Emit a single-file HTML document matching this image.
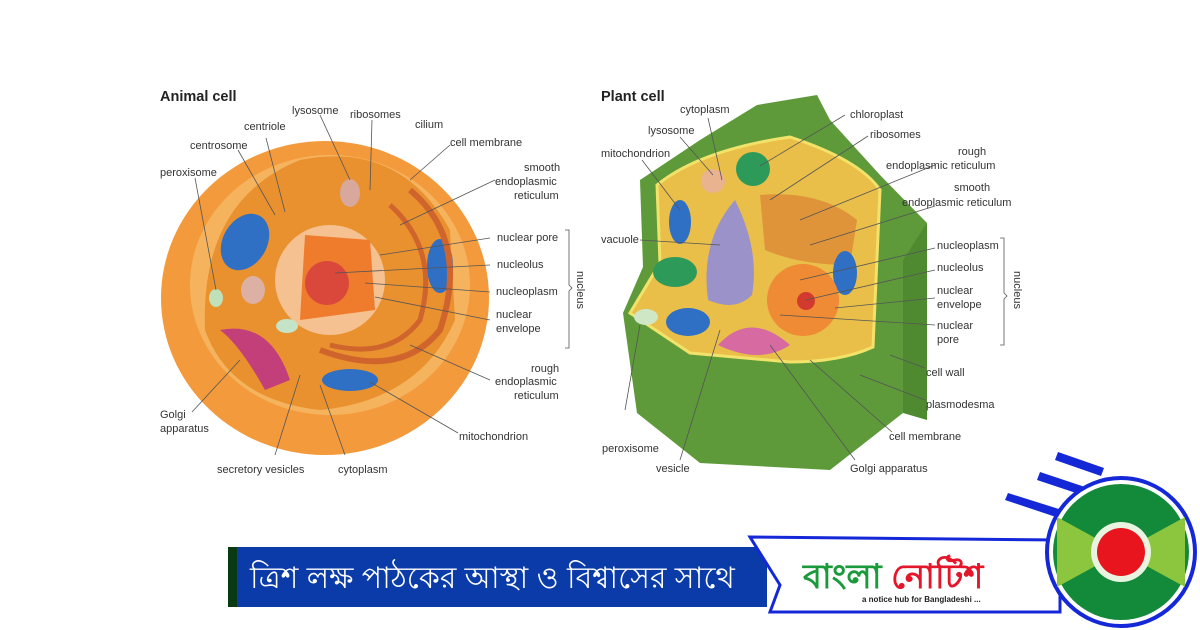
<!DOCTYPE html>
<html><head><meta charset="utf-8"><style>
body{margin:0;width:1200px;height:630px;background:#fff;overflow:hidden;font-family:"Liberation Sans",sans-serif}
svg{position:absolute;left:0;top:0}
text{font-family:"Liberation Sans",sans-serif;font-size:11px;fill:#333}
</style></head><body>
<svg width="1200" height="630" viewBox="0 0 1200 630">
<!-- Animal cell -->
<text x="160" y="101" style="font-size:14.5px;font-weight:bold;fill:#222">Animal cell</text>
<ellipse cx="325" cy="298" rx="164" ry="157" fill="#f39a3c"/>
<ellipse cx="330" cy="285" rx="140" ry="130" fill="#f6b35e"/>
<path d="M205 330 Q200 200 300 160 Q400 140 450 230 L455 320 Q420 400 320 410 Q230 400 205 330Z" fill="#e9912f"/>
<circle cx="330" cy="280" r="55" fill="#f5c190"/>
<path d="M305 235 L370 240 L375 310 L300 320 Z" fill="#ef7b2c"/>
<circle cx="327" cy="283" r="22" fill="#d9483a"/>
<ellipse cx="245" cy="242" rx="22" ry="30" fill="#2f6fc4" transform="rotate(30 245 242)"/>
<ellipse cx="440" cy="266" rx="13" ry="27" fill="#2f6fc4"/>
<ellipse cx="350" cy="380" rx="28" ry="11" fill="#2f6fc4"/>
<ellipse cx="350" cy="193" rx="10" ry="14" fill="#d7a89b"/>
<ellipse cx="253" cy="290" rx="12" ry="14" fill="#dcb0a2"/>
<ellipse cx="216" cy="298" rx="7" ry="9" fill="#bfe0b8"/>
<ellipse cx="287" cy="326" rx="11" ry="7" fill="#c4e3c7"/>
<path d="M220 330 Q270 320 290 380 L265 390 Q240 345 220 330Z" fill="#c33f7a"/>
<path d="M410 190 Q470 240 440 330 Q400 380 320 350" fill="none" stroke="#d0642d" stroke-width="6"/>
<path d="M390 205 Q440 250 420 320 Q390 360 330 345" fill="none" stroke="#d0642d" stroke-width="5"/>
<g stroke="#555" stroke-width="0.8" fill="none">
<line x1="275" y1="215" x2="238" y2="150"/><line x1="285" y1="212" x2="266" y2="138"/>
<line x1="350" y1="180" x2="320" y2="115"/><line x1="370" y1="190" x2="372" y2="120"/>
<line x1="410" y1="180" x2="450" y2="145"/><line x1="400" y1="225" x2="495" y2="180"/>
<line x1="216" y1="290" x2="195" y2="178"/><line x1="380" y1="255" x2="490" y2="238"/>
<line x1="335" y1="273" x2="490" y2="265"/><line x1="365" y1="283" x2="490" y2="292"/>
<line x1="375" y1="297" x2="490" y2="320"/><line x1="410" y1="345" x2="490" y2="380"/>
<line x1="370" y1="382" x2="458" y2="433"/><line x1="240" y1="360" x2="192" y2="412"/>
<line x1="300" y1="375" x2="275" y2="455"/><line x1="320" y1="385" x2="345" y2="455"/>
<path d="M565 230 h4 v55 l3 3 l-3 3 v57 h-4"/>
</g>
<text x="292" y="114">lysosome</text><text x="350" y="118">ribosomes</text><text x="415" y="128">cilium</text>
<text x="244" y="130">centriole</text><text x="190" y="149">centrosome</text><text x="450" y="146">cell membrane</text>
<text x="160" y="176">peroxisome</text>
<text x="524" y="171">smooth</text><text x="495" y="185">endoplasmic</text><text x="514" y="199">reticulum</text>
<text x="497" y="241">nuclear pore</text><text x="497" y="268">nucleolus</text><text x="496" y="295">nucleoplasm</text>
<text x="496" y="318">nuclear</text><text x="496" y="332">envelope</text>
<text x="531" y="372">rough</text><text x="495" y="385">endoplasmic</text><text x="514" y="399">reticulum</text>
<text x="459" y="440">mitochondrion</text>
<text x="160" y="418">Golgi</text><text x="160" y="432">apparatus</text>
<text x="217" y="473">secretory vesicles</text><text x="338" y="473">cytoplasm</text>
<text x="577" y="290" transform="rotate(90 577 290)" text-anchor="middle">nucleus</text>
<!-- Plant cell -->
<text x="601" y="101" style="font-size:14.5px;font-weight:bold;fill:#222">Plant cell</text>
<path d="M640 180 L700 140 L757 105 L817 95 L830 120 L880 175 L927 223 L920 250 L903 260 L903 413 L830 470 L700 463 L637 413 L623 313 L643 267 Z" fill="#5e9a3a"/>
<path d="M903 260 L927 223 L927 420 L903 413Z" fill="#4f8a30"/>
<path d="M657 185 Q700 150 790 137 Q860 160 880 190 L873 347 Q840 362 790 362 L690 353 L630 313 L660 263 Z" fill="#e9bf4a" stroke="#f2e26a" stroke-width="3"/>
<path d="M760 195 Q820 190 857 220 L850 265 Q800 265 765 250 Z" fill="#dd8a35" opacity="0.8"/>
<path d="M735 200 Q760 250 752 295 Q735 312 708 300 Q700 240 735 200Z" fill="#9a92c8"/>
<circle cx="713" cy="181" r="12" fill="#e8b38e"/>
<ellipse cx="753" cy="169" rx="17" ry="17" fill="#2e9a5a"/>
<ellipse cx="680" cy="222" rx="11" ry="22" fill="#2f6fc4"/>
<ellipse cx="675" cy="272" rx="22" ry="15" fill="#2e9a5a"/>
<ellipse cx="688" cy="322" rx="22" ry="14" fill="#2f6fc4"/>
<ellipse cx="646" cy="317" rx="12" ry="8" fill="#cfe7c5"/>
<ellipse cx="845" cy="273" rx="12" ry="22" fill="#2f6fc4"/>
<circle cx="803" cy="300" r="36" fill="#ef8a35"/>
<circle cx="806" cy="301" r="9" fill="#d33a2e"/>
<path d="M718 345 Q750 310 790 345 Q760 365 718 345Z" fill="#d66aa1"/>
<g stroke="#555" stroke-width="0.8" fill="none">
<line x1="722" y1="180" x2="708" y2="118"/><line x1="713" y1="175" x2="680" y2="137"/>
<line x1="760" y1="166" x2="845" y2="115"/><line x1="770" y1="200" x2="868" y2="136"/>
<line x1="680" y1="210" x2="642" y2="160"/><line x1="800" y1="220" x2="935" y2="165"/>
<line x1="810" y1="245" x2="935" y2="206"/><line x1="720" y1="245" x2="640" y2="240"/>
<line x1="800" y1="280" x2="935" y2="248"/><line x1="806" y1="300" x2="935" y2="270"/>
<line x1="835" y1="308" x2="935" y2="298"/><line x1="780" y1="315" x2="935" y2="325"/>
<line x1="890" y1="355" x2="925" y2="368"/><line x1="860" y1="375" x2="925" y2="400"/>
<line x1="810" y1="360" x2="892" y2="432"/><line x1="770" y1="345" x2="855" y2="460"/>
<line x1="640" y1="325" x2="625" y2="410"/><line x1="720" y1="330" x2="680" y2="460"/>
<path d="M1000 238 h4 v55 l3 3 l-3 3 v46 h-4"/>
</g>
<text x="680" y="113">cytoplasm</text><text x="850" y="118">chloroplast</text><text x="870" y="138">ribosomes</text>
<text x="648" y="134">lysosome</text><text x="601" y="157">mitochondrion</text>
<text x="958" y="155">rough</text><text x="886" y="169">endoplasmic reticulum</text>
<text x="954" y="191">smooth</text><text x="902" y="206">endoplasmic reticulum</text>
<text x="601" y="243">vacuole</text>
<text x="937" y="249">nucleoplasm</text><text x="937" y="271">nucleolus</text>
<text x="937" y="294">nuclear</text><text x="937" y="308">envelope</text>
<text x="937" y="329">nuclear</text><text x="937" y="343">pore</text>
<text x="926" y="376">cell wall</text><text x="926" y="408">plasmodesma</text>
<text x="889" y="440">cell membrane</text>
<text x="602" y="452">peroxisome</text><text x="656" y="472">vesicle</text><text x="850" y="472">Golgi apparatus</text>
<text x="1014" y="290" transform="rotate(90 1014 290)" text-anchor="middle">nucleus</text>
<!-- Banner -->
<rect x="228" y="547" width="9" height="60" fill="#0a3a12"/>
<rect x="237" y="547" width="530" height="60" fill="#0a3ba8"/>
<text x="250" y="588" style="font-size:30px;fill:#fff;font-family:'Liberation Sans',sans-serif">ত্রিশ লক্ষ পাঠকের আস্থা ও বিশ্বাসের সাথে</text>
<path d="M750 537 L1060 540 L1060 612 L770 612 L780 585 Z" fill="#fff" stroke="#1428d8" stroke-width="3"/>
<g fill="#1428d8">
<polygon points="1058,452 1104,468 1101,476 1055,460"/>
<polygon points="1040,472 1094,490 1091,498 1037,480"/>
<polygon points="1008,493 1062,510 1059,518 1005,500"/>
</g>
<text x="803" y="588" style="font-size:34px;font-weight:bold;fill:#1a9a3a">বাংলা <tspan fill="#e3162a">নোটিশ</tspan></text>
<text x="862" y="602" style="font-size:8px;font-weight:bold;fill:#222">a notice hub for Bangladeshi ...</text>
<circle cx="1121" cy="552" r="74" fill="#fff" stroke="#1428d8" stroke-width="4"/>
<circle cx="1121" cy="552" r="68" fill="#138a3a"/>
<polygon points="1057,517 1121,552 1057,587" fill="#8cc63f"/>
<polygon points="1185,517 1121,552 1185,587" fill="#8cc63f"/>
<circle cx="1121" cy="552" r="30" fill="#e9f4e0"/>
<circle cx="1121" cy="552" r="24" fill="#e8141e"/>
</svg>
</body></html>
